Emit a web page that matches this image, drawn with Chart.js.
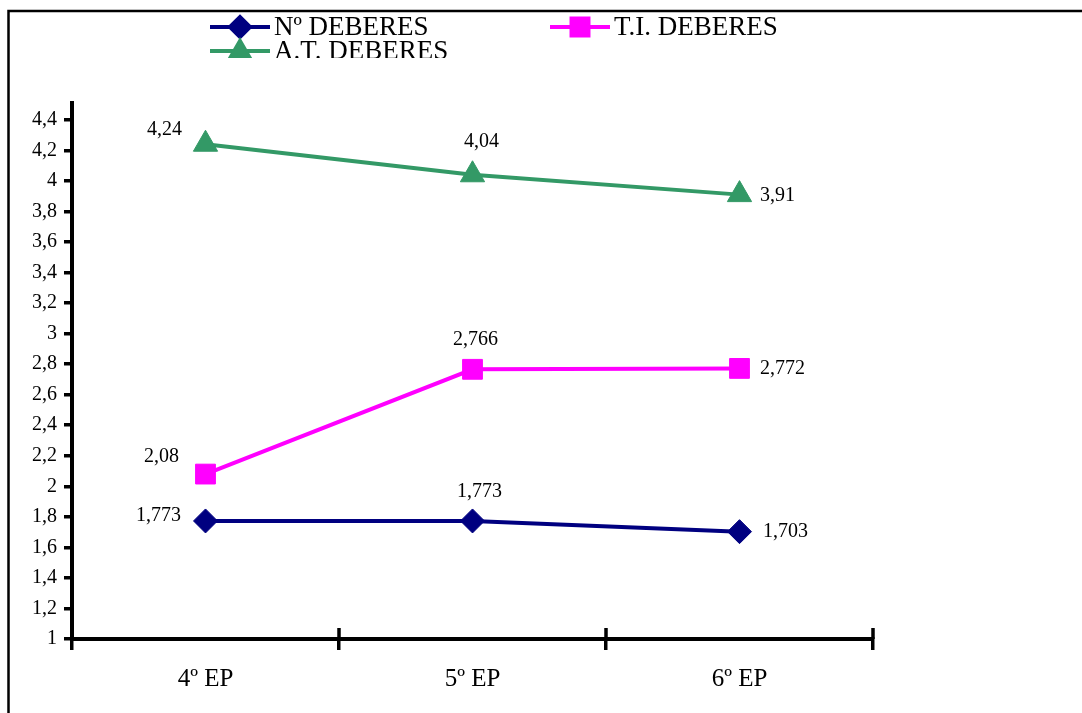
<!DOCTYPE html>
<html>
<head>
<meta charset="utf-8">
<script src="https://cdn.jsdelivr.net/npm/chart.js@4/dist/chart.umd.min.js"></script>
<style>
  html, body { margin: 0; padding: 0; background: #ffffff; }
  #wrap { width: 1082px; height: 713px; position: relative; }
</style>
</head>
<body>
<div id="wrap"><canvas id="chart"></canvas></div>
<script>
// Data
const categories = ['4º EP', '5º EP', '6º EP'];
const numDeberes = [1.773, 1.773, 1.703];
const tiDeberes = [2.08, 2.766, 2.772];
const atDeberes = [4.24, 4.04, 3.91];
const seriesNames = ['Nº DEBERES', 'T.I. DEBERES', 'A.T. DEBERES'];
const yTicks = [1, 1.2, 1.4, 1.6, 1.8, 2, 2.2, 2.4, 2.6, 2.8, 3, 3.2, 3.4, 3.6, 3.8, 4, 4.2, 4.4];

const SERIF = "'Liberation Serif', 'Times New Roman', serif";

// label offsets from each point (first / middle / last)
const labelOffsets = [
  [[-47, -5], [7, -29], [46, 0]],
  [[-44, -17], [3, -30], [43, 0]],
  [[-41, -14], [9, -33], [38, 1]]
];

function fmt(v) {
  return String(v).replace('.', ',');
}

// Frame, inward x ticks, legend and value labels
const extrasPlugin = {
  id: 'extras',
  afterDraw(chart) {
    const ctx = chart.ctx;
    const x = chart.scales.x;
    const area = chart.chartArea;

    ctx.save();
    // outer frame (only top and left visible)
    ctx.strokeStyle = '#000';
    ctx.lineWidth = 2.5;
    ctx.beginPath();
    ctx.moveTo(8.5, 713);
    ctx.lineTo(8.5, 11);
    ctx.lineTo(1082, 11);
    ctx.stroke();

    // x tick marks crossing into the plot
    const step = (x.right - x.left) / categories.length;
    ctx.lineWidth = 3.5;
    for (let i = 0; i <= categories.length; i++) {
      const px = Math.round(x.left + i * step);
      ctx.beginPath();
      ctx.moveTo(px, area.bottom);
      ctx.lineTo(px, area.bottom - 11);
      ctx.stroke();
    }

    // value labels
    ctx.fillStyle = '#000';
    ctx.font = '20px ' + SERIF;
    ctx.textAlign = 'center';
    ctx.textBaseline = 'middle';
    chart.data.datasets.forEach((ds, di) => {
      const meta = chart.getDatasetMeta(di);
      meta.data.forEach((pt, i) => {
        const off = labelOffsets[di][i];
        ctx.fillText(fmt(ds.data[i]), pt.x + off[0], pt.y + off[1]);
      });
    });

    // legend, clipped like the original
    ctx.beginPath();
    ctx.rect(0, 13, 1082, 45);
    ctx.clip();
    const legendPos = [[210, 27], [550, 27], [210, 51]];
    ctx.font = '27px ' + SERIF;
    ctx.textAlign = 'left';
    chart.data.datasets.forEach((ds, di) => {
      const [lx, ly] = legendPos[di];
      ctx.strokeStyle = ds.borderColor;
      ctx.lineWidth = 4;
      ctx.beginPath();
      ctx.moveTo(lx, ly);
      ctx.lineTo(lx + 60, ly);
      ctx.stroke();
      Chart.helpers.drawPoint(ctx, {
        pointStyle: ds.pointStyle,
        radius: ds.pointStyle === 'rect' ? 12 : 10,
        rotation: 0,
        borderWidth: 1
      }, lx + 30, ly);
      ctx.fillStyle = ds.borderColor;
      ctx.fill();
      ctx.fillStyle = '#000';
      ctx.fillText(ds.label, lx + 64, ly + 1);
    });
    ctx.restore();
  }
};

function makeDataset(label, data, color, style, radius) {
  return {
    label: label,
    data: data,
    borderColor: color,
    backgroundColor: color,
    pointBackgroundColor: color,
    pointBorderColor: color,
    pointBorderWidth: 1,
    borderWidth: 4,
    pointStyle: style,
    pointRadius: radius,
    pointHoverRadius: radius,
    tension: 0
  };
}

new Chart(document.getElementById('chart'), {
  type: 'line',
  data: {
    labels: categories,
    datasets: [
      makeDataset(seriesNames[0], numDeberes, '#000080', 'rectRot', 12),
      makeDataset(seriesNames[1], tiDeberes, '#ff00ff', 'rect', 14),
      makeDataset(seriesNames[2], atDeberes, '#339966', 'triangle', 14)
    ]
  },
  options: {
    responsive: true,
    maintainAspectRatio: false,
    animation: false,
    layout: { padding: { top: 103, right: 209, left: 0, bottom: 0 } },
    plugins: {
      legend: { display: false },
      tooltip: { enabled: false }
    },
    scales: {
      x: {
        offset: true,
        grid: {
          offset: true,
          drawOnChartArea: false,
          drawTicks: true,
          tickLength: 11,
          lineWidth: 3.5,
          color: '#000'
        },
        border: { display: true, color: '#000', width: 4 },
        ticks: {
          color: '#000',
          font: { family: SERIF, size: 25 },
          padding: 14
        },
        afterFit(scale) { scale.height = 74; }
      },
      y: {
        min: 1,
        max: 4.51,
        grid: {
          drawOnChartArea: false,
          drawTicks: true,
          tickLength: 8,
          lineWidth: 3.5,
          color: '#000'
        },
        border: { display: true, color: '#000', width: 4 },
        ticks: {
          color: '#000',
          font: { family: SERIF, size: 20 },
          padding: 7,
          callback: v => fmt(Math.round(v * 10) / 10)
        },
        afterBuildTicks(scale) {
          scale.ticks = yTicks.map(v => ({ value: v }));
        },
        afterFit(scale) { scale.width = 72; }
      }
    }
  },
  plugins: [extrasPlugin]
});
</script>
</body>
</html>
